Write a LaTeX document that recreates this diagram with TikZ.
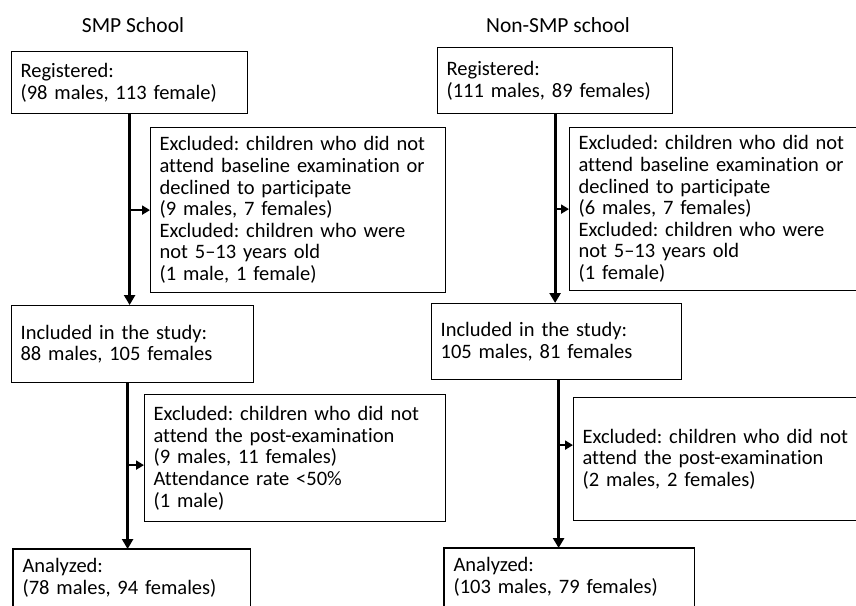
\documentclass[tikz,border=0pt]{standalone}
\usepackage{fontspec}
\setmainfont{Carlito}[Ligatures=NoCommon]
\usetikzlibrary{arrows.meta,positioning}
\frenchspacing

\begin{document}
\begin{tikzpicture}[x=1pt,y=-1pt,>={Triangle[length=10pt,width=11pt]},
    box/.style={draw,rectangle,align=left,anchor=north west,
        inner xsep=9pt,inner ysep=0pt,line width=1.2pt,
        font=\fontsize{20.5}{21.6}\selectfont},
    title/.style={font=\fontsize{21.5}{24}\selectfont},
    flow/.style={->,line width=3pt},
    branch/.style={-{Triangle[length=8pt,width=9pt]},line width=2pt}]

  \useasboundingbox (0,0) rectangle (856,605);
  \clip (0,0) rectangle (856,605);

  % SMP school
  \node[title] (titA) at (133,25) {SMP School};
  \node[box,text width=218pt,minimum height=62pt] (regA) at (11,51)
      {Registered:\\(98 males, 113 female)};
  \node[box,text width=277pt,minimum height=165pt] (exA1) at (150,127)
      {Excluded: children who did not\\attend baseline examination or\\declined to participate\\(9 males, 7 females)\\Excluded: children who were\\not 5--13 years old\\(1 male, 1 female)};
  \node[box,text width=224pt,minimum height=77pt] (incA) at (11,305)
      {Included in the study:\\88 males, 105 females};
  \node[box,text width=283pt,minimum height=127pt] (exA2) at (144,394)
      {Excluded: children who did not\\attend the post-examination\\(9 males, 11 females)\\Attendance rate <50\%\\(1 male)};
  \node[box,draw=none,text width=218pt,minimum height=56pt] (anaA) at (13,549)
      {Analyzed:\\(78 males, 94 females)};
  \draw[line width=1.2pt] (anaA.north west) rectangle ([yshift=-40pt]anaA.south east);

  % Non-SMP school
  \node[title] (titB) at (558,25) {Non-SMP school};
  \node[box,text width=217pt,minimum height=66pt] (regB) at (437,47)
      {Registered:\\(111 males, 89 females)};
  \node[box,text width=282pt,minimum height=163pt] (exB1) at (569,127)
      {Excluded: children who did not\\attend baseline examination or\\declined to participate\\(6 males, 7 females)\\Excluded: children who were\\not 5--13 years old\\(1 female)};
  \node[box,text width=232pt,minimum height=76pt] (incB) at (431,303)
      {Included in the study:\\105 males, 81 females};
  \node[box,text width=282pt,minimum height=123pt] (exB2) at (573,397)
      {Excluded: children who did not\\attend the post-examination\\(2 males, 2 females)};
  \node[box,draw=none,text width=231pt,minimum height=56pt] (anaB) at (444,548)
      {Analyzed:\\(103 males, 79 females)};
  \draw[line width=1.2pt] (anaB.north west) rectangle ([yshift=-40pt]anaB.south east);

  % connectors
  \coordinate (a2) at ([xshift=-5pt]incA.south);
  \coordinate (exA2in) at ([yshift=-7pt]exA2.west);
  \coordinate (b2) at ([xshift=2pt]incB.south);
  \coordinate (exB2in) at ([yshift=14pt]exB2.west);

  \draw[flow] (regA.south) -- (regA.south |- incA.north);
  \draw[branch] (regA.south |- exA1.west) -- (exA1.west);
  \draw[flow] (a2) -- (a2 |- anaA.north);
  \draw[branch] (a2 |- exA2in) -- (exA2in);

  \draw[flow] (regB.south) -- (regB.south |- incB.north);
  \draw[branch] (regB.south |- exB1.west) -- (exB1.west);
  \draw[flow] (b2) -- (b2 |- anaB.north);
  \draw[branch] (b2 |- exB2in) -- (exB2in);

\end{tikzpicture}
\end{document}
